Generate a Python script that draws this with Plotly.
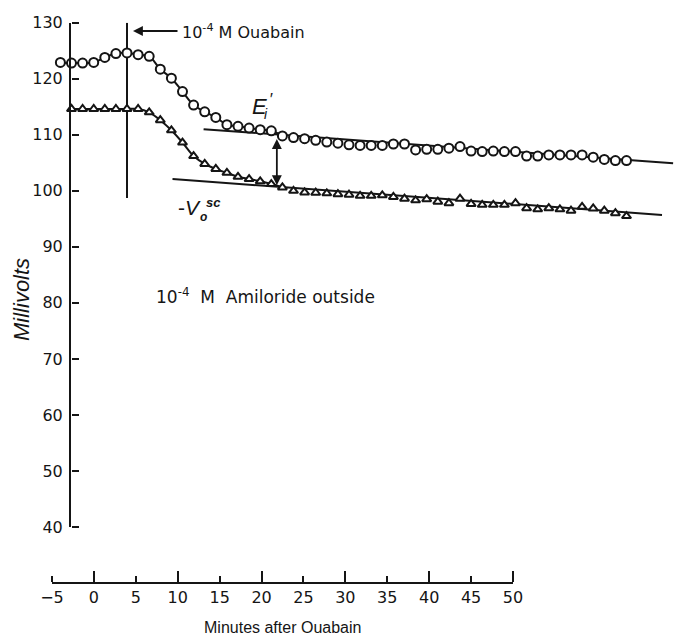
import plotly.graph_objects as go

# ---------------- data ----------------
circ_t = list(range(-6, 46))
circ_mv = [122.9, 122.8, 122.8, 122.9, 123.8, 124.5, 124.6, 124.3, 124.0, 121.7,
           120.1, 117.7, 115.3, 114.1, 113.1, 111.8, 111.5, 111.2, 110.9, 110.7,
           109.8, 109.5, 109.3, 109.0, 108.7, 108.5, 108.2,
           108.1, 108.1, 108.1, 108.35, 108.35, 107.3, 107.4, 107.4, 107.6, 107.9,
           107.1, 107.0, 107.1, 107.0, 107.0, 106.2, 106.2, 106.4, 106.4, 106.4,
           106.4, 106.0, 105.6, 105.4, 105.4]
tri_t = list(range(-5, 46))
tri_mv = [114.6, 114.6, 114.6, 114.6, 114.6, 114.6, 114.6, 114.0, 112.6, 110.8,
          108.6, 106.2, 104.8, 103.9, 103.2, 102.5, 102.1, 101.7, 101.2, 100.6,
          100.0, 99.7, 99.65, 99.55, 99.4, 99.3, 99.1, 99.1, 99.2, 98.9,
          98.6, 98.3, 98.5, 98.05, 97.8, 98.6, 97.65, 97.5, 97.5, 97.5,
          97.8, 96.9, 96.7, 96.9, 96.7, 96.45, 97.15, 96.85, 96.45, 96.0, 95.5]
curve_end_t = 14            # smooth curve through points up to this time
circ_fit_t = [6.9, 49.2]
circ_fit_mv = [111.0, 104.9]
tri_fit_t = [4.1, 48.2]
tri_fit_mv = [102.1, 95.7]
ouabain_t = 0
ouabain_line_mv = [98.7, 130]
diff_arrow_t = 13.5
diff_arrow_mv = [101.0, 109.5]
x_ticks = list(range(-5, 51, 5))
x_major = list(range(0, 51, 10))
y_ticks = list(range(40, 131, 10))

W, H = 696, 637
INK = "#151515"
TICKFONT = dict(family="DejaVu Sans", size=16, color=INK)


def tx(px):   # pixel -> minutes on the data axis
    return (px - 127) / 11.1


def vy(py):   # pixel -> millivolts
    return 130 - (py - 22.7) / 5.603


fig = go.Figure()

ci = [i for i, t in enumerate(circ_t) if t <= curve_end_t]
ti = [i for i, t in enumerate(tri_t) if t <= curve_end_t]
fig.add_trace(go.Scatter(x=[circ_t[i] for i in ci], y=[circ_mv[i] for i in ci],
                         mode="lines", line=dict(color=INK, width=2, shape="spline"),
                         hoverinfo="skip"))
fig.add_trace(go.Scatter(x=[tri_t[i] for i in ti], y=[tri_mv[i] for i in ti],
                         mode="lines", line=dict(color=INK, width=2, shape="spline"),
                         hoverinfo="skip"))
fig.add_trace(go.Scatter(x=circ_fit_t, y=circ_fit_mv, mode="lines",
                         line=dict(color=INK, width=2)))
fig.add_trace(go.Scatter(x=tri_fit_t, y=tri_fit_mv, mode="lines",
                         line=dict(color=INK, width=2)))
fig.add_trace(go.Scatter(x=[ouabain_t, ouabain_t], y=ouabain_line_mv, mode="lines",
                         line=dict(color=INK, width=2)))
fig.add_trace(go.Scatter(x=circ_t, y=circ_mv, mode="markers",
                         marker=dict(symbol="circle", size=9, color="white",
                                     line=dict(color=INK, width=2))))
fig.add_trace(go.Scatter(x=tri_t, y=tri_mv, mode="markers",
                         marker=dict(symbol="triangle-up", size=8, color="white",
                                     line=dict(color=INK, width=2))))
# invisible carriers for the axes that are only drawn
def carrier(xs, ys, xa, ya):
    fig.add_trace(go.Scatter(x=xs, y=ys, xaxis=xa, yaxis=ya, mode="markers",
                             marker=dict(opacity=0), hoverinfo="skip"))


carrier([0.5], [40], "x4", "y")
carrier([0.5], [40], "x4", "y3")
carrier(x_ticks, [0.5] * len(x_ticks), "x2", "y2")
carrier(x_ticks, [0.5] * len(x_ticks), "x3", "y2")
carrier(x_major, [0.5] * len(x_major), "x5", "y2")

TF = "Liberation Sans"
ann = []
ann.append(dict(x=tx(133), y=vy(31), ax=tx(179), ay=vy(31), xref="x", yref="y",
                axref="x", ayref="y", text="", showarrow=True, arrowhead=2,
                arrowsize=1.1, arrowwidth=1.8, arrowcolor=INK))
ann.append(dict(x=tx(180), y=vy(31), xref="x", yref="y", xanchor="left",
                yanchor="middle", showarrow=False,
                text="10<sup>-4</sup> M Ouabain",
                font=dict(family="DejaVu Sans", size=16, color=INK)))
ann.append(dict(x=tx(154), y=vy(296), xref="x", yref="y", xanchor="left",
                yanchor="middle", showarrow=False,
                text="10<sup>-4</sup>  M  Amiloride outside",
                font=dict(family="DejaVu Sans", size=17, color=INK)))
ann.append(dict(x=diff_arrow_t, y=diff_arrow_mv[0], ax=diff_arrow_t,
                ay=diff_arrow_mv[1], xref="x", yref="y", axref="x", ayref="y",
                text="", showarrow=True, arrowhead=2, startarrowhead=2,
                arrowside="end+start", arrowsize=1.1, arrowwidth=1.8,
                arrowcolor=INK))
ann.append(dict(x=tx(259), y=vy(106), xref="x", yref="y", showarrow=False,
                xanchor="center", yanchor="middle",
                text="<i>E</i>", font=dict(family=TF, size=22, color=INK)))
ann.append(dict(x=tx(271), y=vy(99), xref="x", yref="y", showarrow=False,
                xanchor="center", yanchor="middle",
                text="<i>′</i>", font=dict(family=TF, size=17, color=INK)))
ann.append(dict(x=tx(266), y=vy(114), xref="x", yref="y", showarrow=False,
                xanchor="center", yanchor="middle",
                text="<i>i</i>", font=dict(family=TF, size=14, color=INK)))
ann.append(dict(x=tx(189), y=vy(207), xref="x", yref="y", showarrow=False,
                xanchor="center", yanchor="middle",
                text="-<i>V</i>", font=dict(family=TF, size=21, color=INK)))
ann.append(dict(x=tx(213), y=vy(202), xref="x", yref="y", showarrow=False,
                xanchor="center", yanchor="middle",
                text="<i><b>sc</b></i>", font=dict(family=TF, size=13, color=INK)))
ann.append(dict(x=tx(203), y=vy(217), xref="x", yref="y", showarrow=False,
                xanchor="center", yanchor="middle",
                text="<i><b>o</b></i>", font=dict(family=TF, size=12, color=INK)))
ann.append(dict(x=21 / W, y=1 - 300 / H, xref="paper", yref="paper", showarrow=False,
                xanchor="center", yanchor="middle",
                textangle=-90, text="<i>Millivolts</i>",
                font=dict(family=TF, size=22, color=INK)))
ann.append(dict(x=282 / W, y=1 - 627 / H, xref="paper", yref="paper", showarrow=False,
                xanchor="center", yanchor="middle",
                text="Minutes after Ouabain",
                font=dict(family=TF, size=16, color=INK)))

hidden = dict(visible=False, fixedrange=True, automargin=False, showgrid=False,
              zeroline=False)
tickonly = dict(showline=False, showticklabels=False, showgrid=False,
                zeroline=False, automargin=False, fixedrange=True,
                ticks="outside", tickwidth=2, tickcolor=INK, tickmode="array")
X_POS = 1 - 582 / H
Y_DOM = [1 - 527 / H, 1 - 22.7 / H]

fig.update_layout(
    width=W, height=H, margin=dict(l=0, r=0, t=0, b=0, pad=0, autoexpand=False),
    paper_bgcolor="white", plot_bgcolor="rgba(0,0,0,0)", showlegend=False,
    annotations=ann,
    xaxis=dict(domain=[0, 1], range=[tx(0), tx(W)], anchor="y", **hidden),
    xaxis4=dict(domain=[71 / W, 1], range=[0, 1], anchor="y", **hidden),
    # millivolt axis: line + labels
    yaxis=dict(domain=Y_DOM, range=[40, 130], anchor="x4",
               showline=True, linewidth=2, linecolor=INK, ticks="",
               tickmode="array", tickvals=y_ticks, tickfont=TICKFONT,
               showgrid=False, zeroline=False, ticklabelstandoff=3,
               automargin=False, fixedrange=True),
    # millivolt axis: tick marks pointing into the plot
    yaxis3=dict(overlaying="y", range=[40, 130], side="right", anchor="free",
                position=71 / W, ticklen=7, tickvals=y_ticks, **tickonly),
    yaxis2=dict(domain=[X_POS, 1], range=[0, 1], anchor="x2", **hidden),
    # time axis: line + labels
    xaxis2=dict(domain=[52 / W, 513 / W], range=[-5, 50], anchor="y2",
                side="bottom", showline=True, linewidth=2, linecolor=INK,
                ticks="", tickmode="array", tickvals=x_ticks,
                tickfont=TICKFONT, showgrid=False, zeroline=False,
                automargin=False, fixedrange=True),
    # time axis: short and long tick marks pointing up
    xaxis3=dict(overlaying="x2", range=[-5, 50], side="top", anchor="free",
                position=X_POS, ticklen=6, tickvals=x_ticks, **tickonly),
    xaxis5=dict(overlaying="x2", range=[-5, 50], side="top", anchor="free",
                position=X_POS, ticklen=11, tickvals=x_major, **tickonly),
)

fig.write_html("out.html")
